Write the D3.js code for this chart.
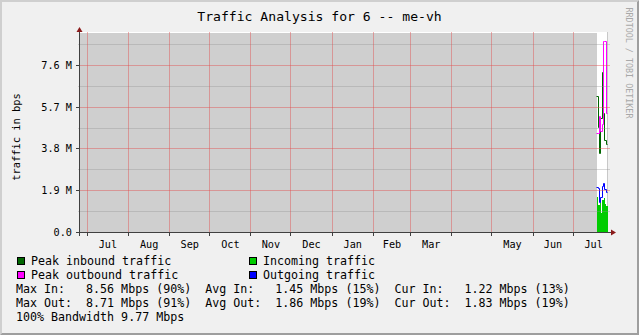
<!DOCTYPE html>
<html>
<head>
<meta charset="utf-8">
<script src="https://cdn.jsdelivr.net/npm/d3@7"></script>
<style>
  body { margin: 0; background: #f0f0f0; }
  svg { display: block; }
  text { font-family: "DejaVu Sans Mono", monospace; white-space: pre; }
</style>
</head>
<body>
<svg id="chart"></svg>
<script>
// time span of the yearly graph and of the known data
const timeSpan = ['2009-06-25 12', '2010-07-27 07'];
const knownFrom = '2010-07-19';
const knownTo = '2010-07-27';

// daily samples, Mbps (M)
const days = ['2010-07-19', '2010-07-20', '2010-07-21', '2010-07-22',
              '2010-07-23', '2010-07-24', '2010-07-25', '2010-07-26'];
const peakIn   = [6.2, 4.8, 3.6, 5.2, 7.3, 5.4, 4.2, 4.0];
const incoming = [1.6, 1.25, 1.4, 0.9, 1.5, 1.55, 1.3, 1.22];
const peakOut  = [4.5, 4.5, 5.3, 4.6, 4.9, 8.71, 8.71, 5.4];
const outgoing = [2.05, 2.0, 1.35, 1.6, 2.1, 2.25, 1.95, 1.83];

// axes
const yMax = 9.1;
const yTicks = [0, 1.9, 3.8, 5.7, 7.6];
const yTickLabels = ['0.0', '1.9 M', '3.8 M', '5.7 M', '7.6 M'];
const yMinorTicks = [0.95, 2.85, 4.75, 6.65, 8.55];
const monthStarts = ['2009-07', '2009-08', '2009-09', '2009-10', '2009-11', '2009-12',
                     '2010-01', '2010-02', '2010-03', '2010-05', '2010-06', '2010-07'];
const monthLabels = ['Jul', 'Aug', 'Sep', 'Oct', 'Nov', 'Dec',
                     'Jan', 'Feb', 'Mar', 'May', 'Jun', 'Jul'];

// legend
const legendNames = ['Peak inbound traffic', 'Incoming traffic', 'Peak outbound traffic', 'Outgoing traffic'];
const legendColors = ['#006600', '#00cc00', '#ff00ff', '#0000ff'];
const statLines = [
  'Max In:   8.56 Mbps (90%)  Avg In:   1.45 Mbps (15%)  Cur In:   1.22 Mbps (13%)',
  'Max Out:  8.71 Mbps (91%)  Avg Out:  1.86 Mbps (19%)  Cur Out:  1.83 Mbps (19%)',
  '100% Bandwidth 9.77 Mbps'
];

const W = 639, H = 335;
const pLeft = 80, pRight = 608, pTop = 32, pBottom = 232;

const parseDay = d3.timeParse('%Y-%m-%d');
const parseHour = d3.timeParse('%Y-%m-%d %H');
const parseMonth = d3.timeParse('%Y-%m');

const svg = d3.select('#chart').attr('width', W).attr('height', H);

// frame, rrdtool style shading
svg.append('rect').attr('width', W).attr('height', H).attr('fill', '#f0f0f0');
svg.append('path').attr('d', `M0,0H${W}L${W-2},2H2V${H-2}L0,${H}Z`).attr('fill', '#cfcfcf');
svg.append('path').attr('d', `M${W},0V${H}H0L2,${H-2}H${W-2}V2Z`).attr('fill', '#9e9e9e');

const x = d3.scaleTime()
  .domain(timeSpan.map(parseHour))
  .range([pLeft, pRight]);
const y = d3.scaleLinear()
  .domain([0, yMax])
  .range([pBottom + 0.5, pTop + 0.5]);
const crisp = v => Math.round(v - 0.5) + 0.5;

// canvas + unknown data
svg.append('rect')
  .attr('x', pLeft).attr('y', pTop)
  .attr('width', pRight - pLeft).attr('height', pBottom - pTop)
  .attr('fill', '#ffffff');
svg.append('rect')
  .attr('x', pLeft).attr('y', pTop + 1)
  .attr('width', Math.round(x(parseDay(knownFrom))) - pLeft).attr('height', pBottom - pTop - 1)
  .attr('fill', '#cfcfcf');
svg.append('line')
  .attr('x1', crisp(x(parseDay(knownTo)))).attr('x2', crisp(x(parseDay(knownTo))))
  .attr('y1', pTop).attr('y2', pBottom)
  .attr('stroke', '#c8c8c8');

const dayDates = days.map(parseDay);
const series = vals => vals.map((v, i) => [dayDates[i], v])
  .concat([[parseDay(knownTo), vals[vals.length - 1]]]);

const area = d3.area().curve(d3.curveStepAfter)
  .x(d => Math.round(x(d[0]))).y0(pBottom).y1(d => Math.round(y(d[1])));
const line = d3.line().curve(d3.curveStepAfter)
  .x(d => crisp(x(d[0]))).y(d => crisp(y(d[1])));

svg.append('path').attr('d', area(series(incoming))).attr('fill', '#00cc00');
[[peakIn, '#006600'], [peakOut, '#ff00ff'], [outgoing, '#0000ff']].forEach(([vals, c]) => {
  svg.append('path').attr('d', line(series(vals)))
    .attr('fill', 'none').attr('stroke', c).attr('stroke-width', 1);
});

// grid on top
const grid = svg.append('g');
grid.selectAll('.minor').data(yMinorTicks).join('line')
  .attr('x1', pLeft - 2).attr('x2', pRight + 2)
  .attr('y1', d => crisp(y(d))).attr('y2', d => crisp(y(d)))
  .attr('stroke', 'rgba(143,143,143,0.35)');
grid.selectAll('.major').data(yTicks.slice(1)).join('line')
  .attr('x1', pLeft - 2).attr('x2', pRight + 2)
  .attr('y1', d => crisp(y(d))).attr('y2', d => crisp(y(d)))
  .attr('stroke', 'rgba(224,80,80,0.45)');
const monthLines = d3.timeMonth.range(x.domain()[0], x.domain()[1]);
grid.selectAll('.vmajor').data(monthLines).join('line')
  .attr('x1', d => crisp(x(d))).attr('x2', d => crisp(x(d)))
  .attr('y1', pTop).attr('y2', pBottom)
  .attr('stroke', 'rgba(224,80,80,0.45)');

// axes
const axisColor = '#404040';
const arrowColor = '#8b1a1a';
svg.append('line').attr('x1', pLeft - 0.5).attr('x2', pLeft - 0.5)
  .attr('y1', pTop - 3).attr('y2', pBottom + 4).attr('stroke', axisColor);
svg.append('line').attr('x1', pLeft - 4).attr('x2', pRight + 4)
  .attr('y1', pBottom + 0.5).attr('y2', pBottom + 0.5).attr('stroke', axisColor);
svg.append('path').attr('d', `M${pLeft - 0.5},${pTop - 5}l-3,5h6Z`).attr('fill', arrowColor);
svg.append('path').attr('d', `M${pRight + 8},${pBottom + 0.5}l-5,-3v6Z`).attr('fill', arrowColor);

svg.selectAll('.ytick').data(yTicks).join('line')
  .attr('x1', pLeft - 4).attr('x2', pLeft)
  .attr('y1', d => crisp(y(d))).attr('y2', d => crisp(y(d)))
  .attr('stroke', axisColor);
svg.selectAll('.xtick').data(monthLines).join('line')
  .attr('x1', d => crisp(x(d))).attr('x2', d => crisp(x(d)))
  .attr('y1', pBottom).attr('y2', pBottom + 4)
  .attr('stroke', axisColor);

svg.selectAll('.ylab').data(yTicks).join('text')
  .attr('x', 72).attr('y', d => crisp(y(d)) + 3.5)
  .attr('text-anchor', 'end').attr('font-size', 10.2).attr('fill', '#000')
  .text((d, i) => yTickLabels[i]);

svg.selectAll('.xlab').data(monthStarts).join('text')
  .attr('x', d => {
    const m = parseMonth(d);
    return (x(m) + x(d3.timeMonth.offset(m, 1))) / 2;
  })
  .attr('y', 248)
  .attr('text-anchor', 'middle').attr('font-size', 10.2).attr('fill', '#000')
  .text((d, i) => monthLabels[i]);

// titles
svg.append('text').attr('x', 319.5).attr('y', 21)
  .attr('text-anchor', 'middle').attr('font-size', 13.1)
  .text('Traffic Analysis for 6 -- me-vh');
svg.append('text')
  .attr('transform', 'translate(19.5,137) rotate(-90)')
  .attr('text-anchor', 'middle').attr('font-size', 10.4)
  .text('traffic in bps');
svg.append('text')
  .attr('transform', 'translate(626,7.5) rotate(90)')
  .attr('font-size', 8.4).attr('fill', '#a8a8a8')
  .text('RRDTOOL / TOBI OETIKER');

// legend
const legend = svg.append('g');
legendNames.forEach((name, i) => {
  const lx = i % 2 === 0 ? 17 : 249;
  const ly = 265 + Math.floor(i / 2) * 14;
  legend.append('rect').attr('x', lx + 0.5).attr('y', ly - 7.5)
    .attr('width', 7).attr('height', 7)
    .attr('fill', legendColors[i]).attr('stroke', '#000');
  legend.append('text').attr('x', lx + 14).attr('y', ly)
    .attr('font-size', 11.65).text(name);
});
statLines.forEach((s, i) => {
  legend.append('text').attr('x', 16).attr('y', 293 + i * 14)
    .attr('font-size', 11.65).attr('xml:space', 'preserve').text(s);
});
</script>
</body>
</html>
